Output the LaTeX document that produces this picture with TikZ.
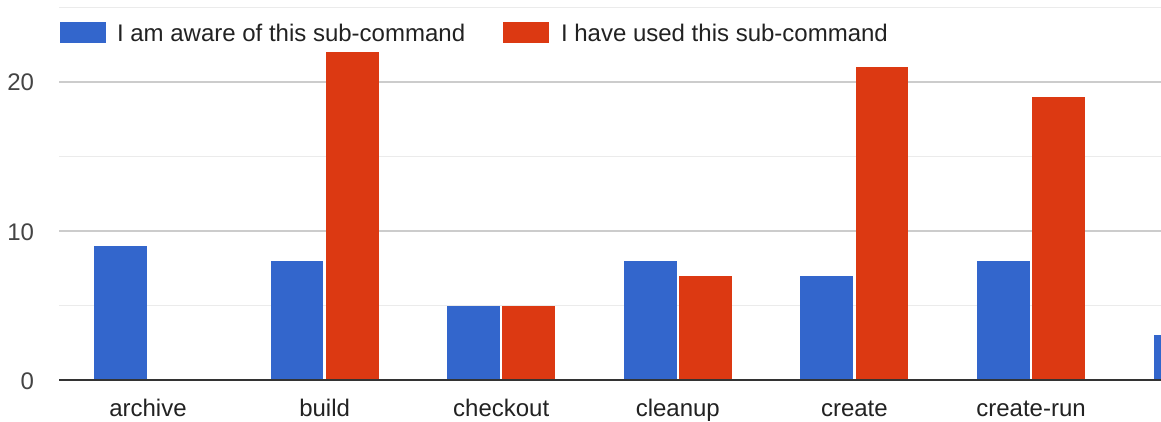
\documentclass[tikz,border=0pt]{standalone}
\usepackage{fontspec}
\setmainfont{Liberation Sans}
\definecolor{gblue}{HTML}{3366CC}
\definecolor{gred}{HTML}{DC3912}
\definecolor{gridmaj}{HTML}{CCCCCC}
\definecolor{gridmin}{HTML}{EBEBEB}
\definecolor{axisc}{HTML}{333333}
\definecolor{txt}{HTML}{222222}
\definecolor{numc}{HTML}{444444}
\begin{document}
\begin{tikzpicture}[x=1pt,y=-1pt,
  every node/.style={inner sep=0pt,outer sep=0pt,font=\fontsize{24}{28}\selectfont},
  catlabel/.style={anchor=base,text=txt},
  numlabel/.style={anchor=base east,text=numc},
  legtext/.style={anchor=base west,text=txt},
  minorgrid/.style={draw=gridmin,line width=1.6pt},
  majorgrid/.style={draw=gridmaj,line width=1.6pt}]
\useasboundingbox[fill=white] (0,0) rectangle (1161,422);
\def\ys{14.9}
% gridlines
\foreach \v in {5,15,25} \draw[minorgrid] (59,{380-\v*\ys}) -- (1161,{380-\v*\ys});
\foreach \v in {10,20} \draw[majorgrid] (59,{380-\v*\ys}) -- (1161,{380-\v*\ys});
% bars
\foreach \i/\b/\r in {0/9/0,1/8/22,2/5/5,3/8/7,4/7/21,5/8/19,6/3/0}{
  \pgfmathsetmacro{\g}{148+176.6*\i}
  \fill[gblue] ({\g-54},380) rectangle ({\g-1.2},{380-\b*\ys});
  \ifnum\r>0 \fill[gred] ({\g+1.2},380) rectangle ({\g+54},{380-\r*\ys});\fi
}
% baseline
\draw[axisc,line width=2.2pt] (59,380) -- (1161,380);
% axis numbers
\node[numlabel] (n0) at (34,389) {0};
\node[numlabel] (n10) at (34,{389-10*\ys}) {10};
\node[numlabel] (n20) at (34,{389-20*\ys}) {20};
% category labels
\node[catlabel] (c1) at (148,416) {archive};
\node[catlabel] (c2) at (324.6,416) {build};
\node[catlabel] (c3) at (501.2,416) {checkout};
\node[catlabel] (c4) at (677.8,416) {cleanup};
\node[catlabel] (c5) at (854.4,416) {create};
\node[catlabel] (c6) at (1031,416) {create-run};
% legend
\fill[gblue] (60,22) rectangle (106,43);
\node[legtext] (l1) at (117,42) {I am aware of this sub-command};
\fill[gred] (503,22) rectangle (549,43);
\node[legtext] (l2) at (561,42) {I have used this sub-command};
\end{tikzpicture}
\end{document}
